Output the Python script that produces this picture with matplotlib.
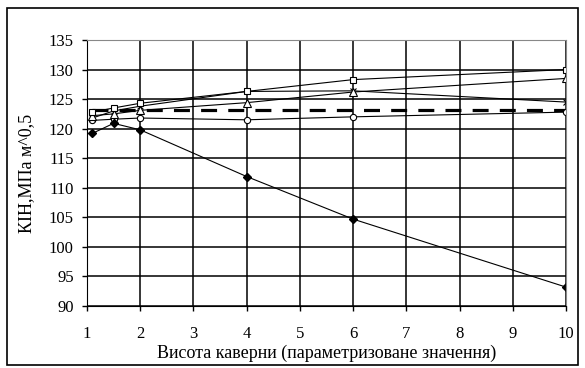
import matplotlib
matplotlib.use("Agg")
import matplotlib.pyplot as plt
from matplotlib.patches import Rectangle

x = [1.1, 1.5, 2, 4, 6, 10]
s_diamond = [119.2, 120.9, 119.8, 111.9, 104.7, 93.2]
s_square = [122.8, 123.5, 124.3, 126.3, 128.3, 130.0]
s_triangle = [122.2, 122.5, 123.1, 124.4, 126.2, 128.5]
s_cross = [121.8, 123.0, 123.8, 126.3, 126.4, 124.5]
s_circle = [121.4, 121.6, 121.8, 121.5, 122.0, 122.8]
s_dashed = [123.1, 123.1, 123.1, 123.1, 123.1, 123.1]

xticks = [1, 2, 3, 4, 5, 6, 7, 8, 9, 10]
yticks = [90, 95, 100, 105, 110, 115, 120, 125, 130, 135]

plt.rcParams['font.family'] = ['Liberation Serif', 'DejaVu Serif']

fig = plt.figure(figsize=(5.85, 3.68), dpi=100)
ax = fig.add_axes([87/585, 1-306/368, (566-87)/585, (306-40)/368])

fig.patches.append(Rectangle((7/585, 3/368), 571/585, 357/368, transform=fig.transFigure,
                             fill=False, edgecolor='black', linewidth=1.2))

ax.grid(True, color='black', linewidth=1.1)
ax.set_axisbelow(True)

ax.plot(x, s_dashed, color='black', linewidth=2.3, linestyle=(0, (5, 3.5)))
ax.plot(x, s_circle, color='black', linewidth=0.8, marker='o', markersize=4.5,
        markerfacecolor='white', markeredgecolor='black', markeredgewidth=0.8)
ax.plot(x, s_cross, color='black', linewidth=0.8, marker='x', markersize=5, markeredgewidth=0.8)
ax.plot(x, s_triangle, color='black', linewidth=0.8, marker='^', markersize=5.5,
        markerfacecolor='white', markeredgecolor='black', markeredgewidth=0.8)
ax.plot(x, s_square, color='black', linewidth=0.8, marker='s', markersize=5,
        markerfacecolor='white', markeredgecolor='black', markeredgewidth=0.8)
ax.plot(x, s_diamond, color='black', linewidth=0.8, marker='D', markersize=4,
        markerfacecolor='black', markeredgecolor='black')

ax.set_xlim(1, 10)
ax.set_ylim(90, 135)
ax.set_xticks(xticks)
ax.set_yticks(yticks)
ax.tick_params(axis='both', direction='out', length=3.5, width=1, labelsize=12, colors='black')
ax.tick_params(axis='x', pad=11)
ax.tick_params(axis='y', pad=6)

for sp in ['top', 'right']:
    ax.spines[sp].set_color('#888888')
for sp in ['left', 'bottom']:
    ax.spines[sp].set_color('black')

ax.set_xlabel('Висота каверни (параметризоване значення)', fontsize=13, labelpad=2)
ax.set_ylabel('КІН,МПа м^0,5', fontsize=13, labelpad=10)

fig.savefig('out.png', dpi=100)
